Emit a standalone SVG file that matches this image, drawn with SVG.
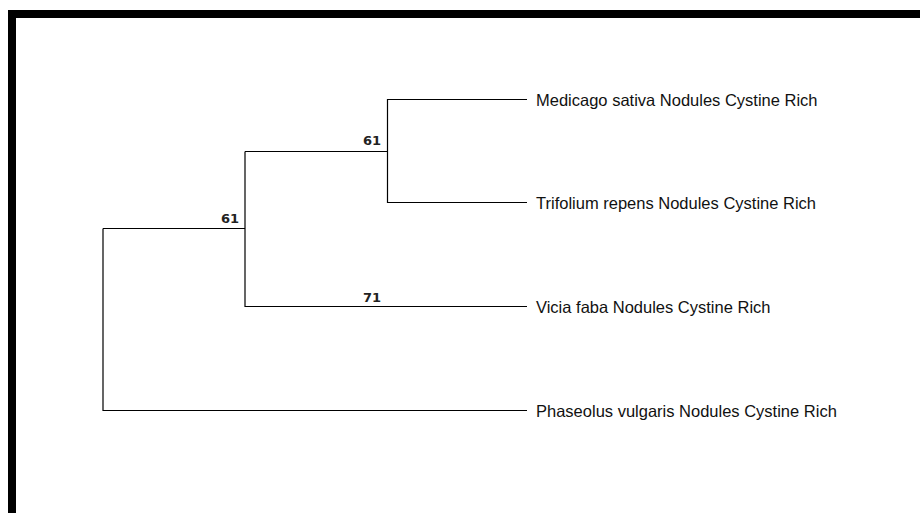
<svg xmlns="http://www.w3.org/2000/svg" width="920" height="513" viewBox="0 0 920 513">
  <style>
    .branch { fill: none; stroke: #000; stroke-width: 1.2; }
    .leaf { font-family: "Liberation Sans", Arial, sans-serif; font-size: 16.5px; fill: #111; }
    .support { font-family: "DejaVu Sans", sans-serif; font-weight: bold; font-size: 13px; fill: #222; text-anchor: end; }
  </style>
  <rect x="0" y="0" width="920" height="513" fill="#fff"/>
  <!-- outer frame -->
  <rect x="12" y="14" width="940" height="540" fill="none" stroke="#000" stroke-width="8"/>

  <g id="connectors">
    <!-- root -->
    <path class="branch" d="M103 228.5 V410.5 H527"/>
    <path class="branch" d="M103 228.5 H245"/>
    <!-- inner clade -->
    <path class="branch" d="M245 151.5 V306.5 H527"/>
    <path class="branch" d="M245 151.5 H387.5"/>
    <!-- Medicago / Trifolium -->
    <path class="branch" d="M527 99.5 H387.5 V202.5 H527"/>
  </g>

  <g id="support-61-inner"><text class="support" x="381" y="145">61</text></g>
  <g id="support-61-outer"><text class="support" x="239" y="223">61</text></g>
  <g id="support-71"><text class="support" x="381" y="302">71</text></g>

  <g id="leaf-medicago"><text class="leaf" x="536" y="105.5">Medicago sativa Nodules Cystine Rich</text></g>
  <g id="leaf-trifolium"><text class="leaf" x="536" y="209">Trifolium repens Nodules Cystine Rich</text></g>
  <g id="leaf-vicia"><text class="leaf" x="536" y="313">Vicia faba Nodules Cystine Rich</text></g>
  <g id="leaf-phaseolus"><text class="leaf" x="536" y="417">Phaseolus vulgaris Nodules Cystine Rich</text></g>
</svg>
